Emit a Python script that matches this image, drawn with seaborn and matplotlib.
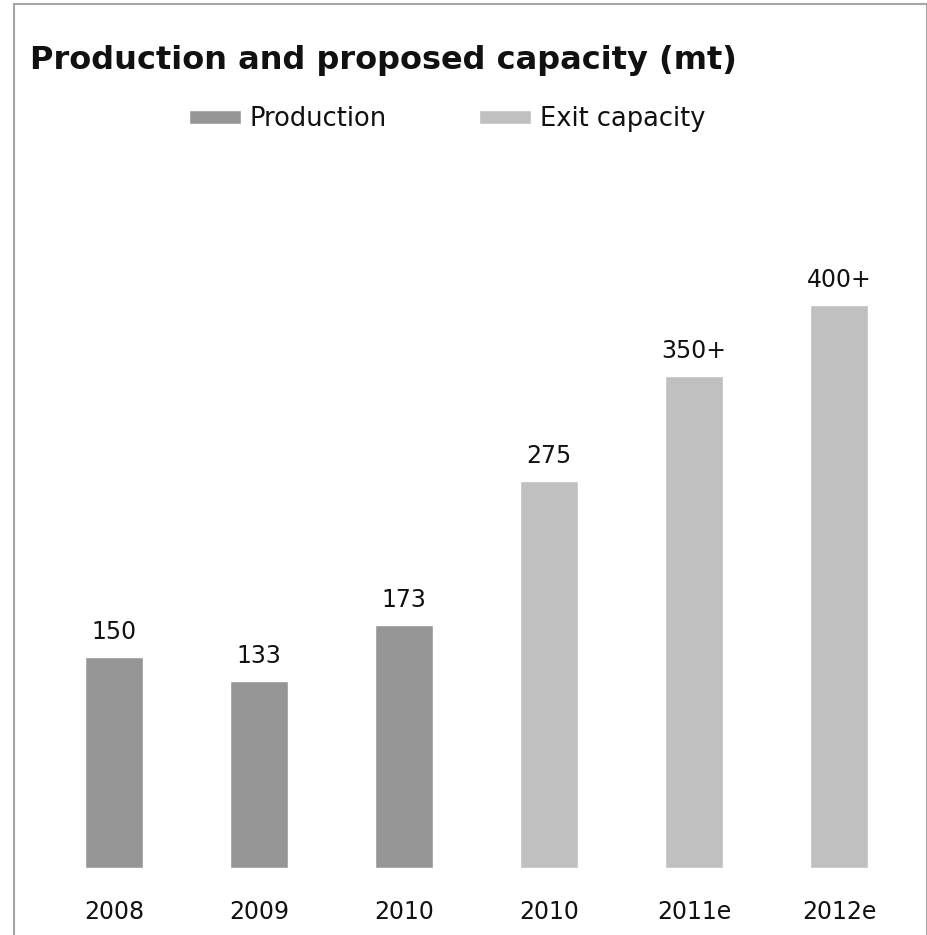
import matplotlib
matplotlib.use("Agg")
import matplotlib.pyplot as plt
from matplotlib.patches import Rectangle
import pandas as pd
import seaborn as sns

# Chart data
categories = ["2008", "2009", "2010", "2010", "2011e", "2012e"]
series = ["Production", "Production", "Production",
          "Exit capacity", "Exit capacity", "Exit capacity"]
values = [150, 133, 173, 275, 350, 400]
value_labels = ["150", "133", "173", "275", "350+", "400+"]
colors = {"Production": "#969696", "Exit capacity": "#c0c0c0"}

df = pd.DataFrame({
    "pos": list(range(len(categories))),
    "value": values,
    "series": series,
})

sns.set_theme(style="white")
plt.rcParams["font.family"] = ["DejaVu Sans"]

W, H = 928, 935
fig = plt.figure(figsize=(W / 100, H / 100), dpi=100)
fig.patch.set_facecolor("white")

# Axes placement in pixel terms
ax_left, ax_right = 41.5, 911.5
ax_bottom, ax_top = 868, 235
ax = fig.add_axes([ax_left / W, 1 - ax_bottom / H,
                   (ax_right - ax_left) / W, (ax_bottom - ax_top) / H])

sns.barplot(data=df, x="pos", y="value", hue="series", palette=colors,
            dodge=False, width=0.4, saturation=1, ax=ax,
            hue_order=["Production", "Exit capacity"])

ax.set_xlim(-0.5, len(categories) - 0.5)
ax.set_ylim(0, 450)
ax.set_xticks(range(len(categories)))
ax.set_xticklabels(categories, fontsize=17, color="#111111")
ax.tick_params(axis="x", length=0, pad=23)
ax.set_yticks([])
ax.set_xlabel("")
ax.set_ylabel("")
for s in ax.spines.values():
    s.set_visible(False)
ax.set_facecolor("none")

# Value labels above bars
bars = sorted(ax.patches, key=lambda p: p.get_x())
bars = [b for b in bars if b.get_height() > 0]
for b, lab in zip(bars, value_labels):
    ax.annotate(lab, (b.get_x() + b.get_width() / 2, b.get_height()),
                xytext=(0, 13), textcoords="offset points",
                ha="center", va="baseline", fontsize=17, color="#111111")

# Legend across the top
leg = ax.get_legend()
handles = leg.legend_handles
labels = [t.get_text() for t in leg.get_texts()]
leg.remove()
fig.legend(handles, labels, loc="center left", ncol=2, frameon=False,
           bbox_to_anchor=(189 / W, 1 - 119 / H), fontsize=18.5,
           borderpad=0, borderaxespad=0,
           handlelength=2.02, handleheight=0.43, handletextpad=0.33,
           columnspacing=3.6, labelcolor="#111111")

# Title
fig.text(30 / W, 1 - 69 / H, "Production and proposed capacity (mt)",
         fontsize=23, fontweight="bold", color="#111111",
         ha="left", va="baseline")

# Outer frame
fig.add_artist(Rectangle((14 / W, -0.02), (927 - 14) / W, 1.02 - 4 / H,
                         transform=fig.transFigure, fill=False,
                         edgecolor="#a6a6a6", linewidth=1.5))

fig.savefig("out.png", dpi=100)
